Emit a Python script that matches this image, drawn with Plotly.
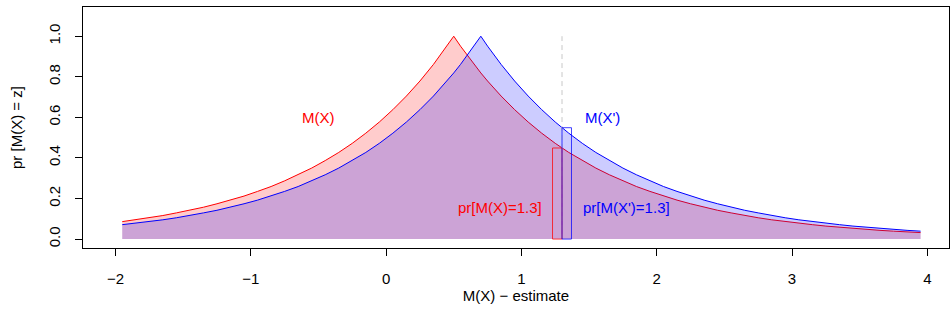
import plotly.graph_objects as go

# ---- data ----
x_vals = [-1.95, -1.85, -1.75, -1.65, -1.55, -1.45, -1.35, -1.25, -1.15, -1.05,
          -0.95, -0.85, -0.75, -0.65, -0.55, -0.45, -0.35, -0.25, -0.15, -0.05,
          0.05, 0.15, 0.25, 0.35, 0.45, 0.5, 0.55, 0.65, 0.7, 0.75,
          0.85, 0.95, 1.05, 1.15, 1.25, 1.35, 1.45, 1.55, 1.65, 1.75,
          1.85, 1.95, 2.05, 2.15, 2.25, 2.35, 2.45, 2.55, 2.65, 2.75,
          2.85, 2.95, 3.05, 3.15, 3.25, 3.35, 3.45, 3.55, 3.65, 3.75,
          3.85, 3.95]
red_vals = [0.086, 0.095, 0.105, 0.116, 0.129, 0.142, 0.157, 0.174, 0.192, 0.212,
            0.235, 0.259, 0.287, 0.317, 0.350, 0.387, 0.427, 0.472, 0.522, 0.577,
            0.638, 0.705, 0.779, 0.861, 0.951, 1.000, 0.951, 0.861, 0.819, 0.779,
            0.705, 0.638, 0.577, 0.522, 0.472, 0.427, 0.387, 0.350, 0.317, 0.287,
            0.259, 0.235, 0.212, 0.192, 0.174, 0.157, 0.142, 0.129, 0.116, 0.105,
            0.095, 0.086, 0.078, 0.071, 0.064, 0.058, 0.052, 0.047, 0.043, 0.039,
            0.035, 0.032]
blue_vals = [0.071, 0.078, 0.086, 0.095, 0.105, 0.116, 0.129, 0.142, 0.157, 0.174,
             0.192, 0.212, 0.235, 0.259, 0.287, 0.317, 0.350, 0.387, 0.427, 0.472,
             0.522, 0.577, 0.638, 0.705, 0.779, 0.819, 0.861, 0.951, 1.000, 0.951,
             0.861, 0.779, 0.705, 0.638, 0.577, 0.522, 0.472, 0.427, 0.387, 0.350,
             0.317, 0.287, 0.259, 0.235, 0.212, 0.192, 0.174, 0.157, 0.142, 0.129,
             0.116, 0.105, 0.095, 0.086, 0.078, 0.071, 0.064, 0.058, 0.052, 0.047,
             0.043, 0.039]
query_x = 1.3
query_red = 0.449
query_blue = 0.549
bar_w = 0.07
x_ticks = [-2, -1, 0, 1, 2, 3, 4]
y_ticks = [0.0, 0.2, 0.4, 0.6, 0.8, 1.0]

FONT = "Liberation Sans, Arial, Helvetica, sans-serif"
FS = 15

fig = go.Figure()

# red density (filled)
fig.add_trace(go.Scatter(x=x_vals, y=red_vals, mode="lines", fill="tozeroy",
                         fillcolor="rgba(255,0,0,0.2)",
                         line=dict(color="red", width=1), hoverinfo="skip"))
# blue density (filled)
fig.add_trace(go.Scatter(x=x_vals, y=blue_vals, mode="lines", fill="tozeroy",
                         fillcolor="rgba(0,0,255,0.2)",
                         line=dict(color="blue", width=1), hoverinfo="skip"))

# dashed vertical at the query point
fig.add_trace(go.Scatter(x=[query_x, query_x], y=[0, 1.0], mode="lines",
                         line=dict(color="#c8c8c8", width=1, dash="5px,4px"),
                         hoverinfo="skip"))

# rectangles marking pr[M(X)=1.3] and pr[M(X')=1.3]
rx = [query_x, query_x - bar_w, query_x - bar_w, query_x, query_x]
ry = [query_red, query_red, 0, 0, query_red]
fig.add_trace(go.Scatter(x=rx, y=ry, mode="lines",
                         line=dict(color="rgba(255,0,0,0.75)", width=1),
                         hoverinfo="skip"))
bx = [query_x, query_x + bar_w, query_x + bar_w, query_x, query_x]
by = [query_blue, query_blue, 0, 0, query_blue]
fig.add_trace(go.Scatter(x=bx, y=by, mode="lines",
                         line=dict(color="rgba(0,0,255,0.75)", width=1),
                         hoverinfo="skip"))

annos = [
    dict(x=-0.5, y=0.60, text="M(X)", color="red", xanchor="center"),
    dict(x=1.6, y=0.60, text="M(X')", color="blue", xanchor="center"),
    dict(x=1.17, y=0.155, text="pr[M(X)=1.3]", color="red", xanchor="right"),
    dict(x=1.44, y=0.155, text="pr[M(X')=1.3]", color="blue", xanchor="left"),
]
for a in annos:
    fig.add_annotation(x=a["x"], y=a["y"], text=a["text"], showarrow=False,
                       xanchor=a["xanchor"], yanchor="middle",
                       font=dict(family=FONT, size=FS, color=a["color"]))

fig.update_layout(
    width=951, height=326,
    margin=dict(l=83, r=2, t=7, b=78),
    plot_bgcolor="white", paper_bgcolor="white",
    showlegend=False,
    font=dict(family=FONT, size=FS, color="black"),
)
fig.update_xaxes(range=[-2.24, 4.16], tickvals=x_ticks,
                 ticktext=[("\u2212" + str(-t)) if t < 0 else str(t) for t in x_ticks],
                 automargin=False,
                 showgrid=False, zeroline=False, showline=True, linecolor="black",
                 linewidth=1, mirror=True, ticks="outside", ticklen=7,
                 tickcolor="black", ticklabelstandoff=10,
                 title=dict(text="M(X) \u2212 estimate", standoff=4,
                            font=dict(family=FONT, size=FS)))
fig.update_yaxes(range=[-0.044, 1.144], tickvals=y_ticks,
                 ticktext=["%.1f" % t for t in y_ticks], tickangle=-90,
                 automargin=False,
                 showgrid=False, zeroline=False, showline=True, linecolor="black",
                 linewidth=1, mirror=True, ticks="outside", ticklen=7,
                 tickcolor="black", ticklabelstandoff=9,
                 title=dict(text="pr [M(X) = z]", standoff=19,
                            font=dict(family=FONT, size=FS)))

fig.write_html("out.html", config={"displayModeBar": False},
               post_script="document.body.style.margin='0px';")
